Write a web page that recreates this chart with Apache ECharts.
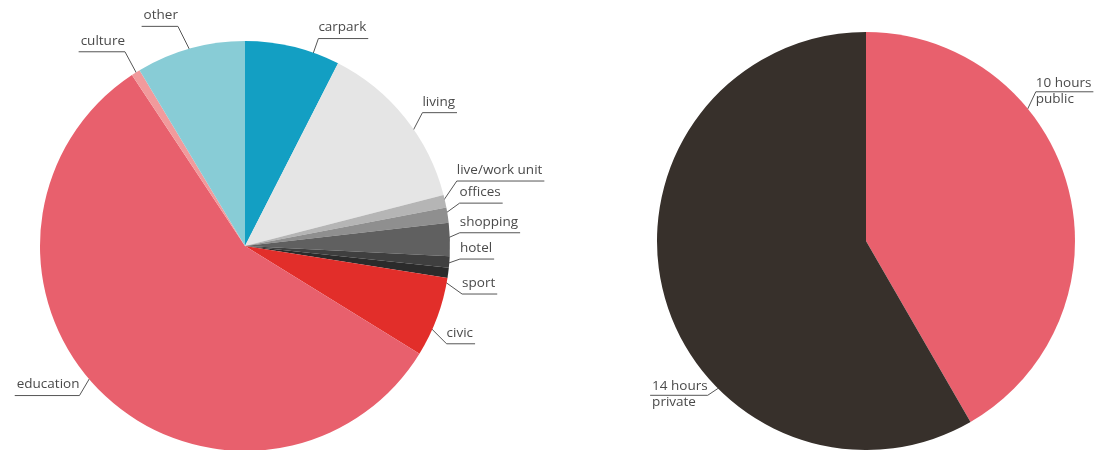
<!DOCTYPE html>
<html>
<head>
<meta charset="utf-8">
<script src="https://cdn.jsdelivr.net/npm/echarts@6/dist/echarts.min.js"></script>
<style>
html,body{margin:0;padding:0;background:#fff;}
#c{width:1096px;height:450px;}
</style>
</head>
<body>
<div id="c"></div>
<script>
// ---- data ----
const useCategories = ['carpark','living','live/work unit','offices','shopping','hotel','sport','civic','education','culture','other'];
const useShares = [7.5, 13.5, 1.0, 1.2, 2.6, 0.9, 0.8, 6.3, 56.9, 0.7, 8.6];
const useColors = ['#139fc3','#e5e5e5','#b5b5b5','#8f8f8f','#606060','#3f3f3f','#2b2b2b','#e22e2a','#e8606d','#f19a9c','#88ccd6'];

const timeCategories = ['public','private'];
const timeHours = [10, 14];
const timeColors = ['#e8606d','#37302b'];

// ---- label styling (callout placement: angle shift from slice middle, elbow offset) ----
const useLabelStyle = [
  {da: 6, ex: 7, ey: -20}, {da: 5, ex: 12, ey: -23}, {da: 1, ex: 17, ey: -25},
  {da: 0, ex: 18, ey: -13}, {da: 0, ex: 16, ey: -7}, {da: 1, ex: 17, ey: -6},
  {da: 2, ex: 21, ey: 15}, {da: 3, ex: 19, ey: 19}, {da: 6, ex: -13, ey: 22},
  {da: 0, ex: -14, ey: -26}, {da: 0, ex: -14, ey: -28}
];
const timeLabelStyle = [{da: -24, ex: 9, ey: -19}, {da: -30, ex: -12, ey: 8}];

const FONT = 'Open Sans';
const TXT = '#4a4a4a';
const LEFT = {cx: 245, cy: 246, r: 205, f: 0.97};
const RIGHT = {cx: 866, cy: 241, r: 209, f: 0.99};

function midAngles(vals) {
  const tot = vals.reduce((a, b) => a + b, 0);
  let acc = 0;
  return vals.map(v => { const m = (acc + v / 2) / tot * 360; acc += v; return m; });
}

function makeLayout(vals, geo, styles, twoLine) {
  const mids = midAngles(vals);
  return function (p) {
    const i = p.dataIndex;
    const s = styles[i];
    const a = (mids[i] + s.da) * Math.PI / 180;
    const rr = geo.r * geo.f;
    const ax = geo.cx + rr * Math.sin(a), ay = geo.cy - rr * Math.cos(a);
    const ex = ax + s.ex, ey = ay + s.ey;
    const w = p.labelRect.width;
    const rightSide = s.ex >= 0;
    const endX = rightSide ? ex + w + 2 : ex - w - 2;
    return {
      x: rightSide ? ex : ex - w,
      y: twoLine ? ey - 1 : ey - 3,
      align: 'left',
      verticalAlign: twoLine ? 'middle' : 'bottom',
      labelLinePoints: [[ax, ay], [ex, ey], [endX, ey]]
    };
  };
}

const chart = echarts.init(document.getElementById('c'), null, {renderer: 'canvas'});
chart.setOption({
  animation: false,
  series: [
    {
      type: 'pie',
      center: [LEFT.cx, LEFT.cy],
      radius: [0, LEFT.r],
      startAngle: 90,
      clockwise: true,
      avoidLabelOverlap: false,
      data: useCategories.map((n, i) => ({name: n, value: useShares[i], itemStyle: {color: useColors[i]}})),
      label: {
        show: true,
        formatter: '{b}',
        fontFamily: FONT,
        fontSize: 13.5,
        color: TXT,
        lineHeight: 16
      },
      labelLine: {
        show: true,
        length: 10,
        length2: 5,
        lineStyle: {color: '#555', width: 1}
      },
      labelLayout: makeLayout(useShares, LEFT, useLabelStyle, false)
    },
    {
      type: 'pie',
      center: [RIGHT.cx, RIGHT.cy],
      radius: [0, RIGHT.r],
      startAngle: 90,
      clockwise: true,
      avoidLabelOverlap: false,
      data: timeCategories.map((n, i) => ({name: n, value: timeHours[i], itemStyle: {color: timeColors[i]}})),
      label: {
        show: true,
        formatter: '{c} hours\n{b}',
        fontFamily: FONT,
        fontSize: 13.5,
        color: TXT,
        lineHeight: 16
      },
      labelLine: {
        show: true,
        length: 8,
        length2: 4,
        lineStyle: {color: '#555', width: 1}
      },
      labelLayout: makeLayout(timeHours, RIGHT, timeLabelStyle, true)
    }
  ]
});
</script>
</body>
</html>
